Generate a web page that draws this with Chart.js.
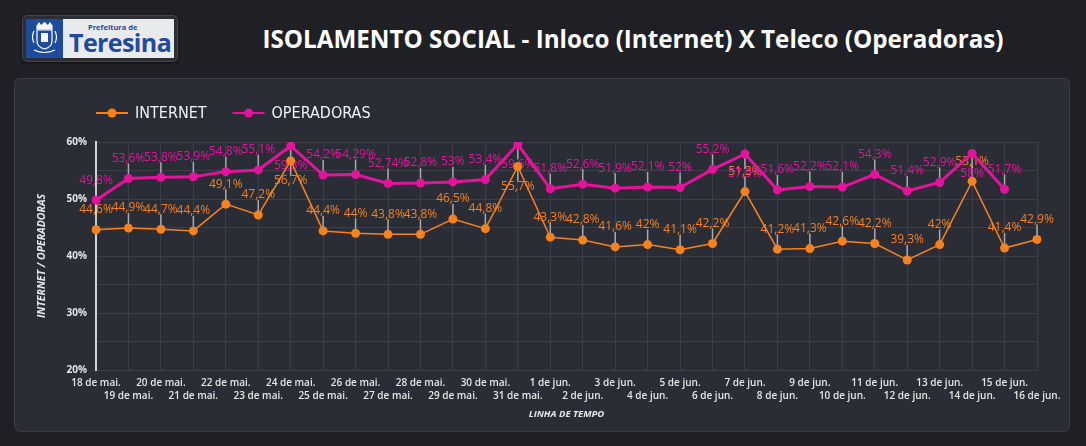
<!DOCTYPE html>
<html>
<head>
<meta charset="utf-8">
<script src="https://cdn.jsdelivr.net/npm/chart.js@4.4.1/dist/chart.umd.min.js"></script>
<style>
  html, body { margin:0; padding:0; }
  body { width:1086px; height:446px; background:#1f2025; position:relative; overflow:hidden; font-family:'Open Sans', sans-serif; }
  #logo { position:absolute; left:22px; top:15px; width:156px; height:47px; background:#2c2e35; border:1px solid #44464e; border-radius:5px; box-sizing:border-box; box-shadow:0 1px 3px rgba(0,0,0,.6); }
  #logoIn { position:absolute; left:3px; top:3px; width:148px; height:39px; background:#e9eaec; }
  #crest { position:absolute; left:0; top:0; width:37px; height:39px; background:#1d4b9e; }
  #pref { position:absolute; left:62px; top:3px; font-size:7.5px; font-weight:700; color:#1f4aa0; letter-spacing:0; }
  #ter { position:absolute; left:43px; top:8px; font-size:25px; font-weight:700; color:#1f4aa0; letter-spacing:-0.6px; line-height:30px; }
  #title { position:absolute; left:633px; top:23px; transform:translateX(-50%); white-space:nowrap; color:#ffffff; font-size:24.2px; font-weight:700; line-height:32px; }
  #card { position:absolute; left:14px; top:78px; width:1056px; height:354px; background:#2a2d36; border:1px solid #3a3d46; border-radius:6px; box-sizing:border-box; }
  #wrap { position:absolute; left:14px; top:78px; width:1056px; height:354px; }
</style>
</head>
<body>
<div id="logo"><div id="logoIn">
  <div id="crest">
    <svg width="37" height="39" viewBox="0 0 37 39">
      <g fill="none" stroke="#ffffff" stroke-width="1.2">
        <path d="M11 7 L13 4 L15 7 L18.5 3.5 L22 7 L24 4 L26 7 L26 10 L11 10 Z" fill="#ffffff"/>
        <path d="M11 11 L26 11 L26 22 Q26 28 18.5 30 Q11 28 11 22 Z"/>
        <path d="M8 24 Q5 18 8 12"/>
        <path d="M29 24 Q32 18 29 12"/>
        <path d="M8 31 Q18.5 36 29 31"/>
      </g>
      <rect x="15" y="14" width="7" height="9" fill="#ffffff"/>
    </svg>
  </div>
  <div id="pref">Prefeitura de</div>
  <div id="ter">Teresina</div>
</div></div>
<div id="title">ISOLAMENTO SOCIAL - Inloco (Internet) X Teleco (Operadoras)</div>
<div id="card"></div>
<div id="wrap"><canvas id="c" width="1056" height="354"></canvas></div>
<script>
const dates = ["18 de mai.","19 de mai.","20 de mai.","21 de mai.","22 de mai.","23 de mai.","24 de mai.","25 de mai.","26 de mai.","27 de mai.","28 de mai.","29 de mai.","30 de mai.","31 de mai.",
  "1 de jun.","2 de jun.","3 de jun.","4 de jun.","5 de jun.","6 de jun.","7 de jun.","8 de jun.","9 de jun.","10 de jun.","11 de jun.","12 de jun.","13 de jun.","14 de jun.","15 de jun.","16 de jun."];
const internet = [44.6,44.9,44.7,44.4,49.1,47.2,56.7,44.4,44,43.8,43.8,46.5,44.8,55.7,43.3,42.8,41.6,42,41.1,42.2,51.3,41.2,41.3,42.6,42.2,39.3,42,53.1,41.4,42.9];
const operadoras = [49.8,53.6,53.8,53.9,54.8,55.1,59.3,54.2,54.29,52.74,52.8,53,53.4,59.6,51.8,52.6,51.9,52.1,52,55.2,57.9,51.6,52.2,52.1,54.3,51.4,52.9,58,51.7];
const yTicks = [20,25,30,35,40,45,50,55,60];
const seriesNames = ["INTERNET","OPERADORAS"];

const ORANGE = '#f7821b';
const MAGENTA = '#e5139b';

function fmt(v){ return String(v).replace('.', ',') + '%'; }

const labelPlugin = {
  id: 'pointLabels',
  beforeDatasetsDraw(chart){
    const ctx = chart.ctx;
    ctx.save();
    ctx.font = "12px 'Open Sans', sans-serif";
    ctx.textAlign = 'center';
    ctx.textBaseline = 'middle';
    chart.data.datasets.forEach((ds, di) => {
      const meta = chart.getDatasetMeta(di);
      meta.data.forEach((pt, i) => {
        const v = ds.data[i];
        if (v == null) return;
        const below = v > 55.5;
        const ly = below ? pt.y + 20 : pt.y - 20;
        ctx.strokeStyle = 'rgba(190,190,195,0.85)';
        ctx.lineWidth = 1.5;
        ctx.beginPath();
        if (below) { ctx.moveTo(pt.x, pt.y + 4); ctx.lineTo(pt.x, ly - 5); }
        else { ctx.moveTo(pt.x, pt.y - 4); ctx.lineTo(pt.x, ly + 5); }
        ctx.stroke();
        ctx.fillStyle = ds.borderColor;
        ctx.fillText(fmt(v), pt.x, ly);
      });
    });
    ctx.restore();
  }
};

const legendPlugin = {
  id: 'lineLegend',
  afterDraw(chart){
    const ctx = chart.ctx;
    ctx.save();
    ctx.font = "16px 'Liberation Sans Narrow', 'DejaVu Sans Condensed', sans-serif";
    ctx.textBaseline = 'middle';
    ctx.textAlign = 'left';
    let x = 82;
    const y = 35;
    chart.data.datasets.forEach(ds => {
      ctx.strokeStyle = ds.borderColor;
      ctx.lineWidth = 2;
      ctx.beginPath(); ctx.moveTo(x, y); ctx.lineTo(x + 32, y); ctx.stroke();
      ctx.fillStyle = ds.borderColor;
      ctx.beginPath(); ctx.arc(x + 16, y, 4.5, 0, Math.PI*2); ctx.fill();
      ctx.fillStyle = '#f2f2f2';
      ctx.fillText(ds.label, x + 39, y + 1);
      x += 39 + ctx.measureText(ds.label).width + 26;
    });
    ctx.restore();
  }
};

new Chart(document.getElementById('c'), {
  type: 'line',
  data: {
    labels: dates,
    datasets: [
      { label: seriesNames[0], data: internet, borderColor: ORANGE, backgroundColor: ORANGE, borderWidth: 1.5, pointRadius: 4.5, pointBorderWidth: 0, pointBackgroundColor: ORANGE, tension: 0 },
      { label: seriesNames[1], data: operadoras, borderColor: MAGENTA, backgroundColor: MAGENTA, borderWidth: 3, pointRadius: 4.5, pointBorderWidth: 0, pointBackgroundColor: MAGENTA, tension: 0 }
    ]
  },
  plugins: [labelPlugin, legendPlugin],
  options: {
    responsive: false,
    animation: false,
    layout: { padding: { left: 20, right: 33, top: 64, bottom: 0 } },
    plugins: { legend: { display: false }, tooltip: { enabled: false } },
    scales: {
      x: {
        offset: false,
        afterFit(s){ s.height = 62; },
        grid: { color: '#3c3f48', lineWidth: 1, drawTicks: false },
        border: { color: '#3c3f48' },
        ticks: {
          autoSkip: false, maxRotation: 0, minRotation: 0, padding: 7,
          color: '#e6e6e6',
          font: { family: "'Open Sans', sans-serif", size: 10, weight: '600', lineHeight: 1.3 },
          callback(v, i){ const l = dates[i]; return i % 2 === 0 ? [l, ''] : ['', l]; }
        },
        title: { display: true, text: 'LINHA DE TEMPO', color: '#e6e6e6', padding: { top: 0, bottom: 12 },
          font: { family: "'Open Sans', sans-serif", size: 9.5, weight: '700', style: 'italic' } }
      },
      y: {
        min: yTicks[0], max: yTicks[yTicks.length-1],
        afterFit(s){ s.width = 62; },
        afterBuildTicks(s){ s.ticks = yTicks.map(v => ({ value: v })); },
        grid: { color: '#3c3f48', lineWidth: 1, drawTicks: false },
        border: { color: '#d2d2d6', width: 2 },
        ticks: {
          padding: 9, color: '#e6e6e6',
          font: { family: "'Open Sans', sans-serif", size: 10, weight: '700' },
          callback(v){ return v % 10 === 0 ? v + '%' : ''; }
        },
        title: { display: true, text: 'INTERNET / OPERADORAS', color: '#e6e6e6', padding: { top: 2, bottom: 0 },
          font: { family: "'Open Sans', sans-serif", size: 10.5, weight: '700', style: 'italic' } }
      }
    }
  }
});
</script>
</body>
</html>
